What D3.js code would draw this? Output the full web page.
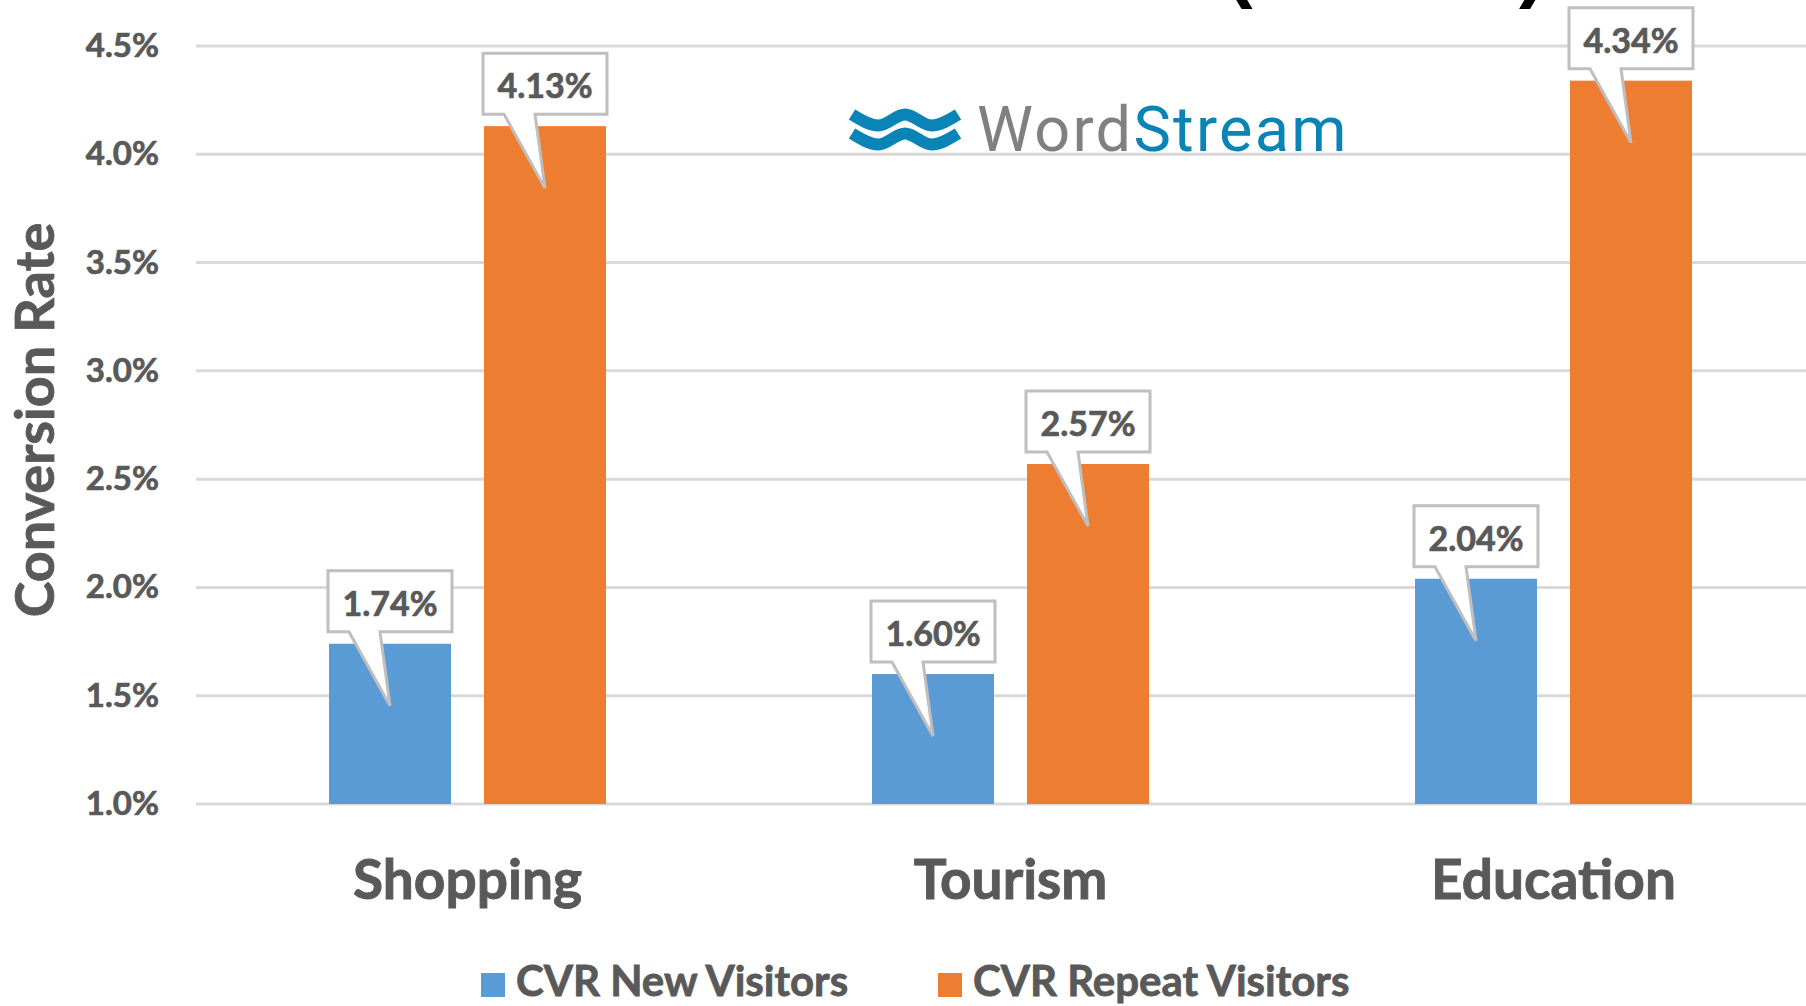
<!DOCTYPE html>
<html>
<head>
<meta charset="utf-8">
<script src="https://cdn.jsdelivr.net/npm/d3@7"></script>
<style>
  html, body { margin: 0; padding: 0; background: #ffffff; }
  svg { display: block; }
</style>
</head>
<body>
<svg id="chart" width="1806" height="1006"></svg>
<script>
// Conversion rate by industry, new vs. repeat visitors
const categories = ["Shopping", "Tourism", "Education"];
const seriesNames = ["CVR New Visitors", "CVR Repeat Visitors"];
const newVisitors = [1.74, 1.60, 2.04];
const repeatVisitors = [4.13, 2.57, 4.34];
const yTicks = [1.0, 1.5, 2.0, 2.5, 3.0, 3.5, 4.0, 4.5];
const seriesColors = ["#5b9bd5", "#ed7d31"];

const W = 1806, H = 1006;
const TEXT = "#595959";
const FONT = "Lato, 'Open Sans', sans-serif";

const svg = d3.select("#chart");
svg.append("rect").attr("width", W).attr("height", H).attr("fill", "#fff");

// bold label helper: slight stroke for a heavier face
function heavy(sel, size, sw) {
  return sel.attr("font-family", FONT).attr("font-weight", 700)
    .attr("font-size", size).attr("fill", TEXT)
    .attr("stroke", TEXT).attr("stroke-width", sw).attr("paint-order", "stroke");
}

const plotLeft = 196;
const x = d3.scaleBand().domain(categories).range([plotLeft, plotLeft + 3 * 543]).padding(0);
const xs = d3.scaleBand().domain(seriesNames).range([0, x.bandwidth()])
  .paddingInner(0.213).paddingOuter(0.858);
const y = d3.scaleLinear().domain([1.0, 4.5]).range([804, 46]);

// cut-off title fragment at the very top
svg.append("text").attr("x", 1226).attr("y", -8)
  .attr("font-family", "'Liberation Sans', Arial, sans-serif").attr("font-weight", 700)
  .attr("font-size", 80).attr("fill", "#000").text("(");
svg.append("text").attr("x", 1519).attr("y", -8)
  .attr("font-family", "'Liberation Sans', Arial, sans-serif").attr("font-weight", 700)
  .attr("font-size", 80).attr("fill", "#000").text(")");

// horizontal gridlines
svg.append("g").selectAll("line").data(yTicks).join("line")
  .attr("x1", plotLeft).attr("x2", W)
  .attr("y1", d => y(d)).attr("y2", d => y(d))
  .attr("stroke", "#d9d9d9").attr("stroke-width", 3);

// y axis labels
const yAxis = svg.append("g").attr("transform", `translate(${plotLeft},0)`)
  .call(d3.axisLeft(y).tickValues(yTicks).tickSize(0).tickPadding(37)
    .tickFormat(d => d3.format(".1f")(d) + "%"));
yAxis.select(".domain").remove();
heavy(yAxis.selectAll("text"), 33, 0.7);

// y axis title
heavy(svg.append("text")
  .attr("transform", "translate(54,420) rotate(-90)")
  .attr("text-anchor", "middle"), 54, 0.8)
  .text("Conversion Rate");

// flatten bars
const bars = [];
categories.forEach((c, i) => {
  bars.push({ cat: c, series: seriesNames[0], value: newVisitors[i], color: seriesColors[0] });
  bars.push({ cat: c, series: seriesNames[1], value: repeatVisitors[i], color: seriesColors[1] });
});

svg.append("g").selectAll("rect").data(bars).join("rect")
  .attr("x", d => x(d.cat) + xs(d.series))
  .attr("y", d => y(d.value))
  .attr("width", xs.bandwidth())
  .attr("height", d => y(1.0) - y(d.value))
  .attr("fill", d => d.color);

// callout labels
const bw = xs.bandwidth();
const callouts = svg.append("g").selectAll("g").data(bars).join("g");
callouts.append("path")
  .attr("d", d => {
    const bx = x(d.cat) + xs(d.series);
    const top = y(d.value);
    const l = bx - 1, r = bx + bw + 1, t = top - 73, b = top - 12;
    const tipX = bx + bw / 2, tipY = top + 62;
    return `M${l},${t}H${r}V${b}H${bx + 51}L${tipX},${tipY}L${bx + 20},${b}H${l}Z`;
  })
  .attr("fill", "#fff").attr("stroke", "#bfbfbf").attr("stroke-width", 3)
  .attr("stroke-linejoin", "miter");
heavy(callouts.append("text")
  .attr("x", d => x(d.cat) + xs(d.series) + bw / 2)
  .attr("y", d => y(d.value) - 73 + 45)
  .attr("text-anchor", "middle"), 34, 0.7)
  .text(d => d3.format(".2f")(d.value) + "%");

// category labels
heavy(svg.append("g").selectAll("text").data(categories).join("text")
  .attr("x", d => x(d) + x.bandwidth() / 2)
  .attr("y", 899)
  .attr("text-anchor", "middle"), 55, 0.9)
  .text(d => d);

// legend
const legendX = [481, 938];
const legend = svg.append("g").selectAll("g").data(seriesNames).join("g")
  .attr("transform", (d, i) => `translate(${legendX[i]},0)`);
legend.append("rect").attr("x", 0).attr("y", 973).attr("width", 24).attr("height", 24)
  .attr("fill", (d, i) => seriesColors[i]);
heavy(legend.append("text").attr("x", 35).attr("y", 996), 42, 0.8)
  .text(d => d);

// WordStream logo
const logo = svg.append("g");
const waveBlue = "#0a84b6";
const waveW = 106, waveA = 11;
const wavePts = [[0, 0], [waveW * 0.25, waveA], [waveW * 0.5, 0], [waveW * 0.75, waveA], [waveW, 0]];
const waveLine = d3.line().curve(d3.curveMonotoneX);
[0, 19].forEach(off => {
  logo.append("path")
    .attr("transform", `translate(852,${114.5 + off})`)
    .attr("d", waveLine(wavePts))
    .attr("fill", "none").attr("stroke", waveBlue)
    .attr("stroke-width", 12).attr("stroke-linecap", "butt");
});
const logoText = logo.append("text").attr("x", 977).attr("y", 151)
  .attr("font-family", "Roboto, 'DejaVu Sans', sans-serif").attr("font-weight", 400)
  .attr("font-size", 63).attr("letter-spacing", 2.3);
logoText.append("tspan").attr("fill", "#808080").text("Word");
logoText.append("tspan").attr("fill", waveBlue).text("Stream");
</script>
</body>
</html>
